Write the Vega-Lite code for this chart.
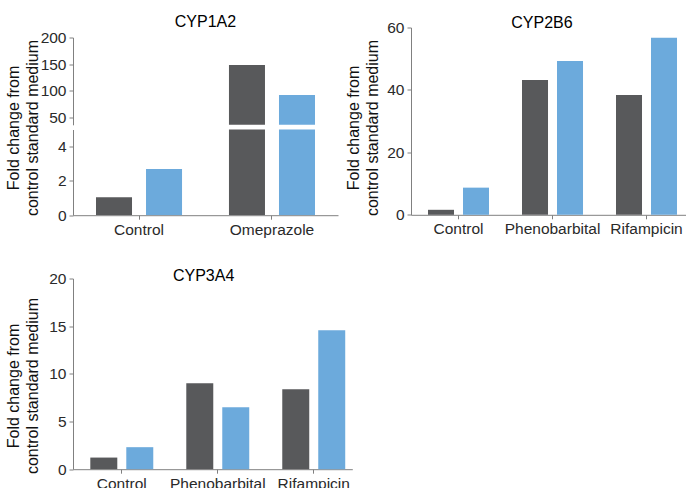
{
  "$schema": "https://vega.github.io/schema/vega-lite/v6.json",
  "padding": {"left": 5, "top": 13.5, "right": 0, "bottom": 0},
  "background": "white",
  "config": {
    "font": "Liberation Sans",
    "view": {"stroke": null},
    "axis": {
      "labelFont": "Liberation Sans",
      "labelFontSize": 15.5,
      "labelColor": "#2a2a2a",
      "domainColor": "#808080",
      "tickColor": "#808080",
      "tickSize": 4,
      "labelPadding": 3,
      "grid": false,
      "titleFont": "Liberation Sans",
      "titleFontSize": 16,
      "titleFontWeight": "normal",
      "titleColor": "#111111",
      "titleLineHeight": 19
    },
    "title": {"font": "Liberation Sans", "fontSize": 16, "fontWeight": "normal", "color": "#000000", "frame": "group", "anchor": "middle"}
  },
  "datasets": {
    "cyp1a2": [
      {"treatment": "Control", "series": "Series 1", "fold": 1.05},
      {"treatment": "Control", "series": "Series 2", "fold": 2.7},
      {"treatment": "Omeprazole", "series": "Series 1", "fold": 148.5},
      {"treatment": "Omeprazole", "series": "Series 2", "fold": 92}
    ],
    "cyp2b6": [
      {"treatment": "Control", "series": "Series 1", "fold": 1.6},
      {"treatment": "Control", "series": "Series 2", "fold": 8.7},
      {"treatment": "Phenobarbital", "series": "Series 1", "fold": 43.2},
      {"treatment": "Phenobarbital", "series": "Series 2", "fold": 49.3},
      {"treatment": "Rifampicin", "series": "Series 1", "fold": 38.4},
      {"treatment": "Rifampicin", "series": "Series 2", "fold": 56.7}
    ],
    "cyp3a4": [
      {"treatment": "Control", "series": "Series 1", "fold": 1.22},
      {"treatment": "Control", "series": "Series 2", "fold": 2.31},
      {"treatment": "Phenobarbital", "series": "Series 1", "fold": 9.02},
      {"treatment": "Phenobarbital", "series": "Series 2", "fold": 6.5},
      {"treatment": "Rifampicin", "series": "Series 1", "fold": 8.39},
      {"treatment": "Rifampicin", "series": "Series 2", "fold": 14.58}
    ]
  },
  "spacing": 29,
  "resolve": {"scale": {"x": "independent", "xOffset": "independent", "y": "independent"}},
  "vconcat": [
    {
      "spacing": 7,
      "resolve": {"scale": {"x": "independent", "xOffset": "independent", "y": "independent"}},
      "hconcat": [
        {
          "spacing": 4,
          "bounds": "flush",
          "resolve": {"scale": {"y": "independent"}},
          "vconcat": [
            {
              "title": {"text": "CYP1A2", "offset": -2},
              "width": 265,
              "height": 6,
              "data": {"values": []},
              "mark": {"type": "point", "opacity": 0},
              "encoding": {}
            },
            {
              "width": 265,
              "height": 87.3,
              "data": {"name": "cyp1a2"},
              "mark": {"type": "bar", "clip": true},
              "encoding": {
                "x": {"field": "treatment", "type": "nominal", "sort": null, "axis": null,
                      "scale": {"paddingInner": 0.353, "paddingOuter": 0.173, "align": 0.5}},
                "xOffset": {"field": "series", "type": "nominal", "scale": {"paddingInner": 0.28}},
                "y": {"field": "fold", "type": "quantitative",
                      "scale": {"domain": [36, 200], "zero": false, "nice": false},
                      "axis": {"values": [50, 100, 150, 200], "title": ["Fold change from", "control standard medium"], "titleY": 90, "titlePadding": 0}},
                "y2": {"datum": 0},
                "color": {"field": "series", "type": "nominal", "legend": null,
                          "scale": {"domain": ["Series 1", "Series 2"], "range": ["#58595b", "#6caadc"]}}
              }
            },
            {
              "width": 265,
              "height": 85.7,
              "data": {"name": "cyp1a2"},
              "mark": {"type": "bar", "clip": true},
              "encoding": {
                "x": {"field": "treatment", "type": "nominal", "sort": null,
                      "axis": {"title": null, "labelAngle": 0},
                      "scale": {"paddingInner": 0.353, "paddingOuter": 0.173, "align": 0.5}},
                "xOffset": {"field": "series", "type": "nominal", "scale": {"paddingInner": 0.28}},
                "y": {"field": "fold", "type": "quantitative",
                      "scale": {"domain": [0, 5], "nice": false},
                      "axis": {"values": [0, 2, 4], "title": null}},
                "y2": {"datum": 0},
                "color": {"field": "series", "type": "nominal", "legend": null,
                          "scale": {"domain": ["Series 1", "Series 2"], "range": ["#58595b", "#6caadc"]}}
              }
            }
          ]
        },
        {
          "title": {"text": "CYP2B6", "offset": -10, "dx": -7},
          "width": 276,
          "height": 187.3,
          "data": {"name": "cyp2b6"},
          "mark": "bar",
          "encoding": {
            "x": {"field": "treatment", "type": "nominal", "sort": null,
                  "axis": {"title": null, "labelAngle": 0},
                  "scale": {"paddingInner": 0.351, "paddingOuter": 0.1436, "align": 0.63}},
            "xOffset": {"field": "series", "type": "nominal", "scale": {"paddingInner": 0.257}},
            "y": {"field": "fold", "type": "quantitative",
                  "scale": {"domain": [0, 60], "nice": false},
                  "axis": {"values": [0, 20, 40, 60], "title": ["Fold change from", "control standard medium"], "titleY": 100, "titlePadding": 6}},
            "color": {"field": "series", "type": "nominal", "legend": null,
                      "scale": {"domain": ["Series 1", "Series 2"], "range": ["#58595b", "#6caadc"]}}
          }
        }
      ]
    },
    {
      "title": {"text": "CYP3A4", "offset": -12, "dx": -9},
      "width": 279.3,
      "height": 190.7,
      "data": {"name": "cyp3a4"},
      "mark": "bar",
      "encoding": {
        "x": {"field": "treatment", "type": "nominal", "sort": null,
              "axis": {"title": null, "labelAngle": 0},
              "scale": {"paddingInner": 0.344, "paddingOuter": 0.127, "align": 0.71}},
        "xOffset": {"field": "series", "type": "nominal", "scale": {"paddingInner": 0.25}},
        "y": {"field": "fold", "type": "quantitative",
              "scale": {"domain": [0, 20], "nice": false},
              "axis": {"values": [0, 5, 10, 15, 20], "title": ["Fold change from", "control standard medium"], "titleY": 107, "titlePadding": 8}},
        "color": {"field": "series", "type": "nominal", "legend": null,
                  "scale": {"domain": ["Series 1", "Series 2"], "range": ["#58595b", "#6caadc"]}}
      }
    }
  ]
}
